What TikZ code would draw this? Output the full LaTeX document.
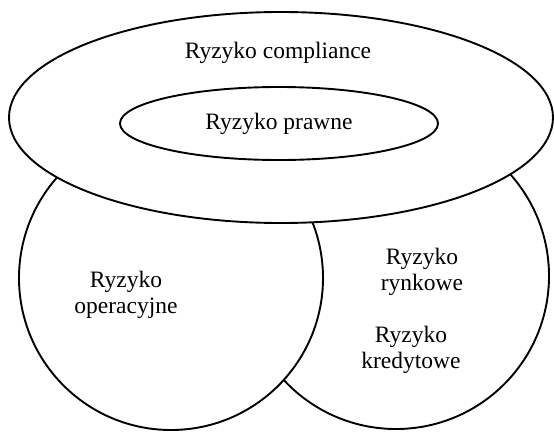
\documentclass[tikz,border=0pt]{standalone}
\usepackage{fontspec}
\setmainfont{Liberation Serif}
\usetikzlibrary{shapes.geometric}
\tikzset{
  riskarea/.style={ellipse, draw, line width=1.9pt, fill=white, inner sep=0pt},
  risktext/.style={align=center, inner sep=0pt, font=\fontsize{23.5}{26}\selectfont}
}
\begin{document}
\begin{tikzpicture}[x=1pt, y=-1pt]
\useasboundingbox (0,0) rectangle (554,431);
% lower circles: right one lies behind the left one
\node[riskarea, minimum width=306pt, minimum height=306pt] (market) at (396,276) {};
\node[riskarea, minimum width=304pt, minimum height=304pt] (operational) at (171,278) {};
% top ring
\node[riskarea, minimum width=544pt, minimum height=211pt] (compliance) at (281,117.5) {};
\node[riskarea, minimum width=318pt, minimum height=73pt, risktext] (legal) at (279,123.5) {Ryzyko prawne};
% texts
\node[risktext] (complianceText) at (278,53) {Ryzyko compliance};
\node[risktext] (operationalText) at (126,295) {Ryzyko\\operacyjne};
\node[risktext] (marketText) at (422,272) {Ryzyko\\rynkowe};
\node[risktext] (creditText) at (411,350) {Ryzyko\\kredytowe};
\end{tikzpicture}
\end{document}
